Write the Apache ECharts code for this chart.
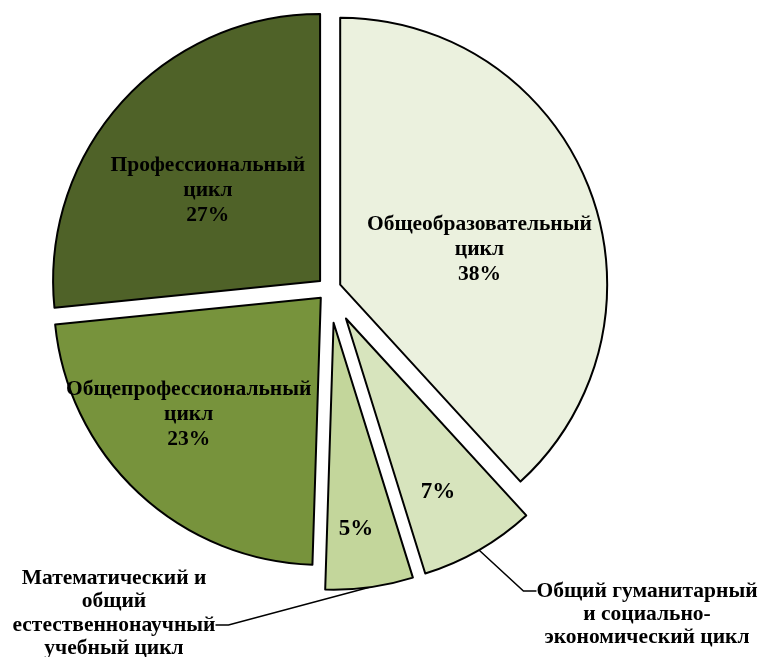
<!DOCTYPE html>
<html style="height: 100%">
   <head>
       <meta charset="utf-8">
   </head>
   <body style="height: 100%; margin: 0; width: 100%; background: #fff;">
       <div id="container" style="height: 657px; width: 758px;"></div>
       <script type="text/javascript" src="https://cdn.jsdelivr.net/npm/echarts@6/dist/echarts.min.js"></script>
       <script type="text/javascript">
// data (shares in %; labels show them rounded)
var names = ['Общеобразовательный цикл', 'Общий гуманитарный и социально-экономический цикл',
    'Математический и общий естественнонаучный учебный цикл', 'Общепрофессиональный цикл', 'Профессиональный цикл'];
var nameLines = ['Общеобразовательный\nцикл', 'Общий гуманитарный\nи социально-\nэкономический цикл',
    'Математический и\nобщий\nестественнонаучный\nучебный цикл', 'Общепрофессиональный\nцикл', 'Профессиональный\nцикл'];
var values = [38.2, 7.0, 5.3, 22.9, 26.6];
var colors = ['#EBF1DE', '#D7E4BD', '#C3D69B', '#77933C', '#4F6228'];
var small = [false, true, true, false, false];

// layout (px)
var pieCenter = [329, 289];
var pieRadius = 267;
var explode = [12, 34, 34, 12, 12];
var innerShift = [[12, 14], [24, 55], [4, 71], [-39, 17], [-11, 1]];
var outerPos = {1: [647, 591], 2: [114, 625]};

var dom = document.getElementById("container");
var myChart = echarts.init(dom);

var font = {
    fontFamily: 'Liberation Serif',
    fontWeight: 'bold',
    fontSize: 21.5,
    color: '#000'
};

// exploded centre of every slice, along its bisector
var total = values.reduce(function (a, b) { return a + b; }, 0);
var acc = 0;
var centers = values.map(function (v, i) {
    var mid = (acc + v / 2) / total * Math.PI * 2;
    acc += v;
    return [pieCenter[0] + explode[i] * Math.sin(mid), pieCenter[1] - explode[i] * Math.cos(mid)];
});

function innerLayout(p) {
    var s = innerShift[p.dataIndex];
    return {
        x: p.labelRect.x + p.labelRect.width / 2 + s[0],
        y: p.labelRect.y + p.labelRect.height / 2 + s[1]
    };
}

function outerLayout(p) {
    var pos = outerPos[p.dataIndex];
    return pos ? {x: pos[0], y: pos[1], align: 'center', verticalAlign: 'middle'} : {};
}

function pieSeries(k, outer) {
    return {
        type: 'pie',
        center: centers[k],
        radius: pieRadius,
        startAngle: 90,
        clockwise: true,
        avoidLabelOverlap: false,
        silent: true,
        emphasis: {disabled: true},
        itemStyle: {borderColor: '#000', borderWidth: 2},
        label: echarts.util.extend({
            position: outer ? 'outside' : 'inside',
            lineHeight: 25,
            align: 'center'
        }, font),
        labelLine: {show: outer, length: 20, length2: 13, lineStyle: {color: '#000', width: 1.5}},
        labelLayout: outer ? outerLayout : innerLayout,
        data: values.map(function (v, i) {
            var on = i === k;
            var item = {
                name: names[i],
                value: v,
                itemStyle: on && !outer ? {color: colors[i]} : {color: 'transparent', borderWidth: 0},
                label: {show: on},
                labelLine: {show: on && outer}
            };
            if (on && !outer) {
                item.label.formatter = function (p) {
                    var pct = Math.round(p.percent) + '%';
                    return small[i] ? pct : nameLines[i] + '\n' + pct;
                };
                if (small[i]) item.label.fontSize = 23;
            }
            if (on && outer) {
                // blank lines keep the leader line level with the right text row
                item.label.formatter = i === 1 ? '\n\n' + nameLines[i] : nameLines[i] + '\n';
                item.label.lineHeight = i === 1 ? 23 : 23.5;
            }
            return item;
        })
    };
}

var series = [];
values.forEach(function (v, i) { series.push(pieSeries(i, false)); });
values.forEach(function (v, i) { if (small[i]) series.push(pieSeries(i, true)); });

var option = {
    backgroundColor: '#fff',
    animation: false,
    series: series
};

myChart.setOption(option, true);
       </script>
   </body>
</html>
